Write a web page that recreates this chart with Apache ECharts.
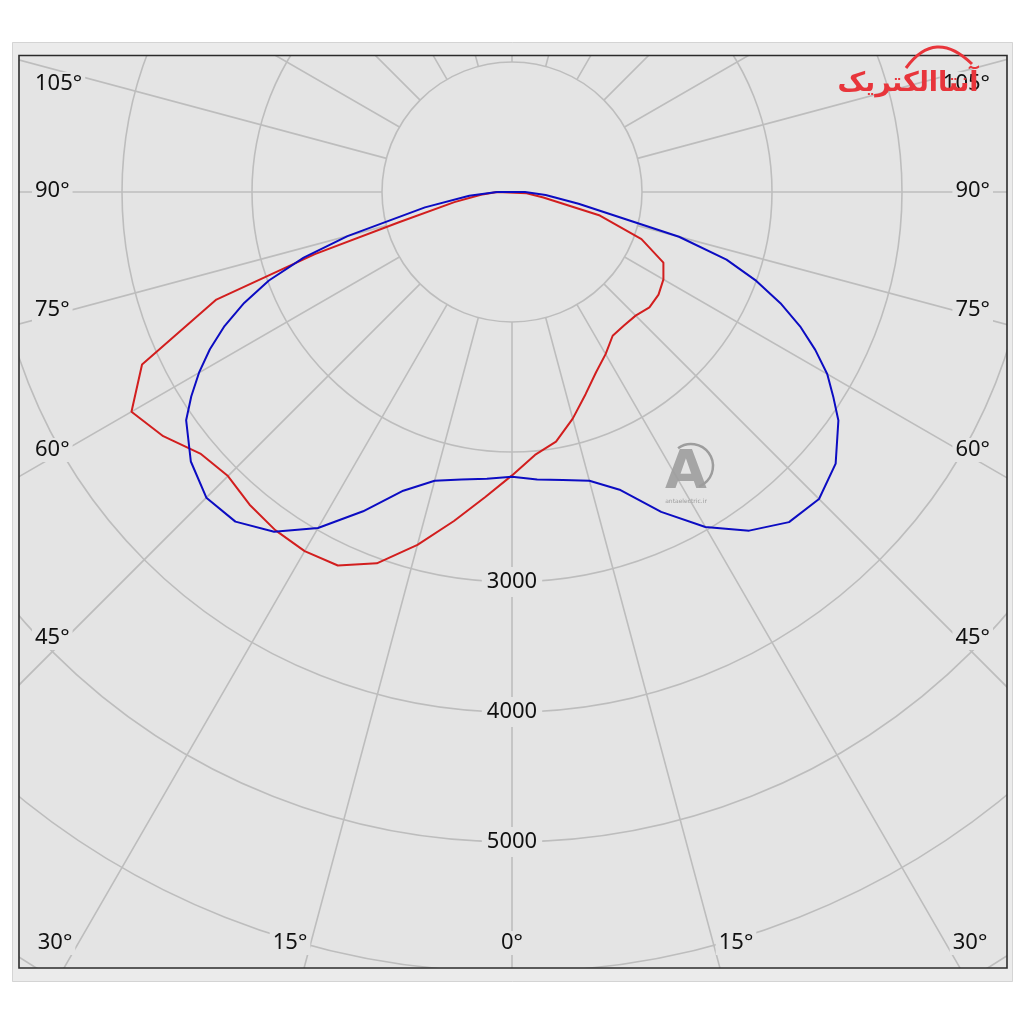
<!DOCTYPE html>
<html><head><meta charset="utf-8">
<script src="https://cdn.jsdelivr.net/npm/echarts@6/dist/echarts.min.js"></script>
<style>html,body{margin:0;padding:0;background:#fff}#c{width:1024px;height:1024px}</style>
</head><body><div id="c"></div>
<script>
// gamma angles (deg, 0 = straight down, + = right side)
const blueAngles = [-90,-85,-80,-75,-72.5,-70,-67.5,-65,-62.5,-60,-57.5,-55,-50,-45,-40,-35,-30,-25,-20,-15,-10,-5,0,5,10,15,20,25,30,35,40,45,50,55,57.5,60,62.5,65,67.5,70,72.5,75,80,85,90];
// blue curve (C0-C180 plane) luminous intensity
const blueIntensity = [115,330,680,1310,1680,1990,2230,2440,2620,2780,2925,3060,3225,3325,3310,3190,2985,2710,2445,2300,2245,2215,2190,2220,2250,2300,2440,2715,2975,3180,3315,3340,3250,3065,2930,2800,2630,2445,2235,2000,1730,1330,520,260,100];
const redAngles = [-90,-85,-80,-75,-72.5,-70,-65,-60,-55,-50,-45,-40,-35,-30,-25,-20,-15,-10,-5,0,5,10,15,20,25,30,35,40,45,50,55,60,65,70,75,80,85,90];
// red curve (C90-C270 plane) luminous intensity
const redIntensity = [115,240,450,900,1590,2420,3140,3380,3275,3130,3090,3140,3175,3190,3170,3040,2810,2570,2355,2180,2030,1950,1805,1655,1530,1440,1350,1340,1345,1380,1376,1345,1285,1060,700,245,113,100];
// radius tick labels shown on the 0° line
const radiusTickLabels = [3000, 4000, 5000];
// angle tick labels around the frame: left side, bottom, right side
const angleTickLabels = ['105°','90°','75°','60°','45°','30°','15°','0°','15°','30°','45°','60°','75°','90°','105°'];

const BG = '#e4e4e4';
const GRID = '#bdbdbd';
const labelLayout = [
  {x:32,y:84,a:'left'},{x:32,y:191,a:'left'},{x:32,y:310,a:'left'},{x:32,y:450,a:'left'},{x:32,y:638,a:'left'},
  {x:55,y:943,a:'center'},{x:290,y:943,a:'center'},{x:512,y:943,a:'center'},{x:736,y:943,a:'center'},{x:970,y:943,a:'center'},
  {x:993,y:638,a:'right'},{x:993,y:450,a:'right'},{x:993,y:310,a:'right'},{x:993,y:191,a:'right'},{x:993,y:84,a:'right'}
];

const closed = (angles, arr) => { const d = angles.map((g,i)=>[arr[i], g]); d.push(d[0]); return d; };

const graphics = [];
angleTickLabels.forEach((t,i)=>{
  const L = labelLayout[i];
  graphics.push({type:'text', z:10, style:{text:t, x:L.x, y:L.y, align:L.a, verticalAlign:'middle',
    font:'22px "Noto Sans"', fill:'#111', backgroundColor:BG, padding:[1,3]}});
});
// outside masks
const white = '#ffffff', band = '#ebebeb';
[[0,0,1024,42],[0,982,1024,42],[0,0,12,1024],[1013,0,11,1024]].forEach(r=>graphics.push({type:'rect',z:50,shape:{x:r[0],y:r[1],width:r[2],height:r[3]},style:{fill:white}}));
[[12,42,1001,13],[12,968,1001,14],[12,42,7,940],[1007,42,6,940]].forEach(r=>graphics.push({type:'rect',z:51,shape:{x:r[0],y:r[1],width:r[2],height:r[3]},style:{fill:band}}));
graphics.push({type:'rect',z:52,shape:{x:12.5,y:42.5,width:1000,height:939},style:{fill:null,stroke:'#d4d4d4',lineWidth:1}});
graphics.push({type:'rect',z:53,shape:{x:19,y:55.5,width:988,height:912.5},style:{fill:null,stroke:'#2b2b2b',lineWidth:1.6}});
// logo
graphics.push({type:'text',z:60,style:{text:'آنتاالکتریک',x:908,y:84,align:'center',verticalAlign:'middle',font:'bold 27px "DejaVu Sans"',fill:'#e8353b'}});
graphics.push({type:'bezierCurve',z:60,shape:{x1:906,y1:68,cpx1:935,cpy1:28,x2:972,y2:64},style:{stroke:'#e8353b',lineWidth:3,fill:null}});
// watermark
graphics.push({type:'text',z:5,style:{text:'A',x:686,y:474,align:'center',verticalAlign:'middle',font:'bold 54px "DejaVu Sans"',fill:'#9d9d9d',opacity:0.9}});
graphics.push({type:'arc',z:5,shape:{cx:691,cy:466,r:22,startAngle:-2.2,endAngle:1.2},style:{stroke:'#9d9d9d',lineWidth:2.5,fill:null}});
graphics.push({type:'text',z:5,style:{text:'antaelectric.ir',x:686,y:501,align:'center',verticalAlign:'middle',font:'6px "DejaVu Sans"',fill:'#9d9d9d'}});

const chart = echarts.init(document.getElementById('c'), null, {renderer:'canvas'});
chart.setOption({
  animation:false,
  backgroundColor: BG,
  polar:[{center:[512,192], radius:[130,1300]},{center:[512,192], radius:[0,1300]}],
  angleAxis:[
    {polarIndex:0, type:'value', min:0, max:360, interval:15, startAngle:-90, z:1,
     axisLine:{show:false}, axisTick:{show:false}, axisLabel:{show:false},
     splitLine:{show:true, lineStyle:{color:GRID, width:1.6}}},
    {polarIndex:1, type:'value', min:-180, max:180, startAngle:90, clockwise:false,
     axisLine:{show:false}, axisTick:{show:false}, axisLabel:{show:false}, splitLine:{show:false}}
  ],
  radiusAxis:[
    {polarIndex:0, type:'value', min:1000, max:10000, interval:1000, z:3,
     axisLine:{show:false}, axisTick:{show:false},
     splitLine:{show:true, lineStyle:{color:GRID, width:1.6}},
     axisLabel:{show:true, margin:0, align:'center', verticalAlign:'middle',
       formatter:v=> radiusTickLabels.indexOf(v) >= 0 ? '{b|'+v+'}' : '',
       rich:{b:{fontFamily:'Noto Sans', fontSize:22, color:'#111', backgroundColor:BG, padding:[4,5]}}}},
    {polarIndex:1, type:'value', min:0, max:10000, axisLine:{show:false}, axisTick:{show:false}, axisLabel:{show:false}, splitLine:{show:false}}
  ],
  series:[
    {type:'line', coordinateSystem:'polar', polarIndex:1, data:closed(redAngles, redIntensity), symbol:'none', z:4,
     lineStyle:{color:'#d21e1e', width:2}},
    {type:'line', coordinateSystem:'polar', polarIndex:1, data:closed(blueAngles, blueIntensity), symbol:'none', z:5,
     lineStyle:{color:'#0c0cc2', width:2}}
  ],
  graphic: graphics
});
</script></body></html>
